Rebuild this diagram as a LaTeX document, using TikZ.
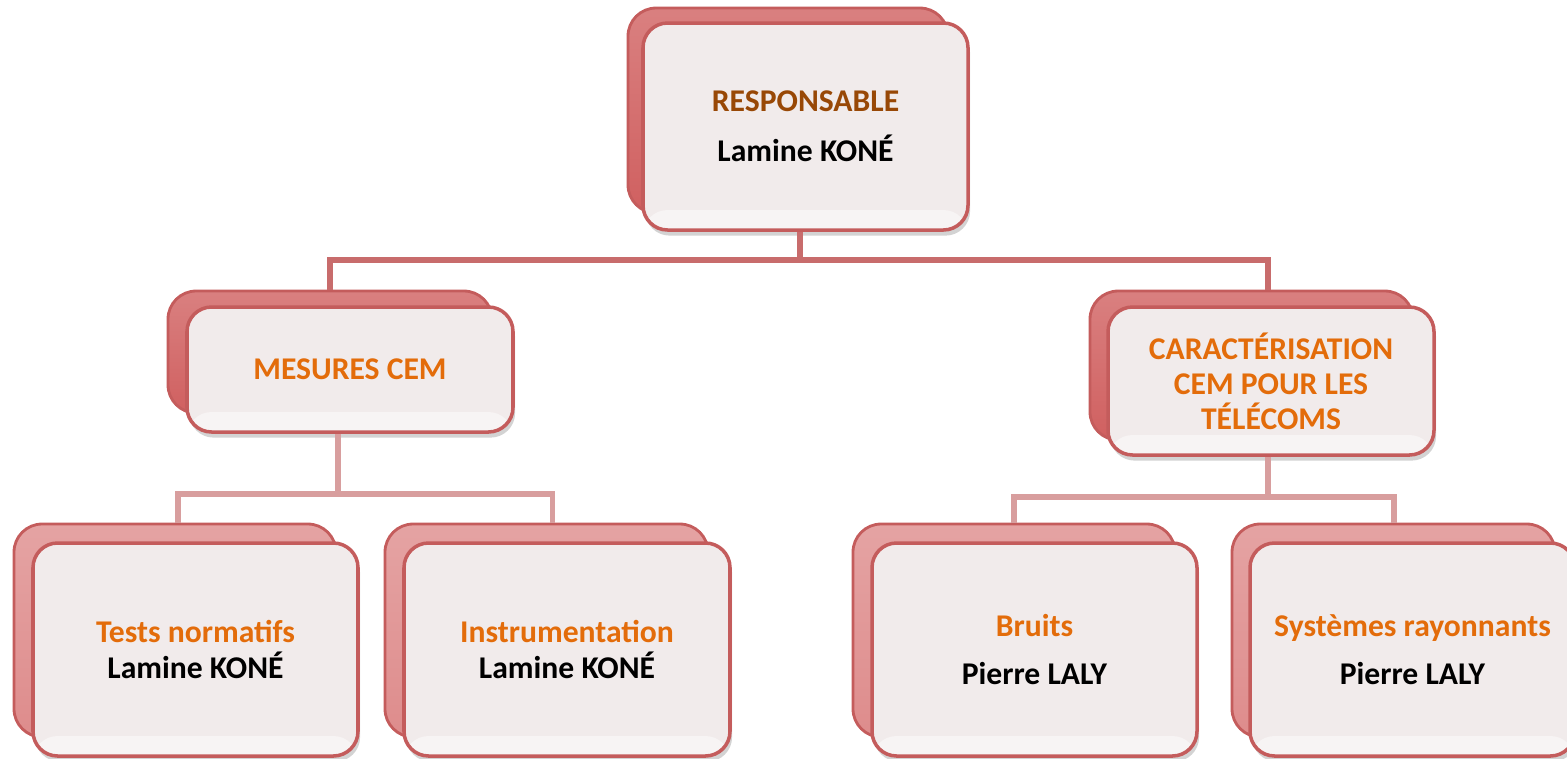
\documentclass[tikz,border=0pt]{standalone}
\usepackage{fontspec}
\setmainfont{Carlito}
\usepackage{xcolor}
\usetikzlibrary{shadows}

\definecolor{backred}{RGB}{208,96,96}
\definecolor{backpink}{RGB}{222,140,140}
\definecolor{edgered}{RGB}{196,92,92}
\definecolor{frontfill}{RGB}{241,235,235}
\definecolor{linered}{RGB}{200,108,108}
\definecolor{linepink}{RGB}{216,158,158}
\definecolor{headbrown}{RGB}{152,72,6}
\definecolor{headorange}{RGB}{227,108,10}

\begin{document}
\begin{tikzpicture}[every node/.style={inner sep=0pt, align=center, font=\fontsize{9}{10}\selectfont\bfseries},
                    backbox/.style={rounded corners=8pt, draw=edgered, line width=0.8pt, top color=#1!80, bottom color=#1},
                    frontbox/.style={rounded corners=7pt, draw=edgered, line width=1pt, fill=frontfill,
                        drop shadow={opacity=0.35, shadow xshift=0.6pt, shadow yshift=-1.6pt},
                        path picture={\fill[white, opacity=0.45] (path picture bounding box.south west) rectangle ([yshift=0.2cm]path picture bounding box.south east);}},
                    link/.style={line width=1.7pt, draw=#1}]
                    \clip (0,0) rectangle (15.67,-7.58);

                    \node[backbox=backred, minimum width=3.20cm, minimum height=2.05cm] (respb) at (7.88,-1.105) {};
                    \node[frontbox, minimum width=3.25cm, minimum height=2.07cm] (resp) at (8.055,-1.265) {\textcolor{headbrown}{RESPONSABLE}\\[4.2pt]Lamine KONÉ};

                    \node[backbox=backred, minimum width=3.24cm, minimum height=1.22cm] (mesb) at (3.30,-3.52) {};
                    \node[frontbox, minimum width=3.26cm, minimum height=1.25cm] (mes) at (3.50,-3.695) {\textcolor{headorange}{MESURES CEM}};

                    \node[backbox=backred, minimum width=3.23cm, minimum height=1.49cm] (carb) at (12.515,-3.655) {};
                    \node[frontbox, text=headorange, minimum width=3.26cm, minimum height=1.48cm] (car) at (12.71,-3.81) {CARACTÉRISATION\\CEM POUR LES\\TÉLÉCOMS};

                    \node[backbox=backpink, minimum width=3.22cm, minimum height=2.13cm] (testb) at (1.75,-6.305) {};
                    \node[frontbox, minimum width=3.25cm, minimum height=2.13cm] (test) at (1.955,-6.495) {\textcolor{headorange}{Tests normatifs}\\Lamine KONÉ};

                    \node[backbox=backpink, minimum width=3.23cm, minimum height=2.13cm] (instb) at (5.465,-6.305) {};
                    \node[frontbox, minimum width=3.26cm, minimum height=2.13cm] (inst) at (5.67,-6.495) {\textcolor{headorange}{Instrumentation}\\Lamine KONÉ};

                    \node[backbox=backpink, minimum width=3.22cm, minimum height=2.13cm] (bruitb) at (10.14,-6.305) {};
                    \node[frontbox, minimum width=3.25cm, minimum height=2.13cm] (bruit) at (10.345,-6.495) {\textcolor{headorange}{Bruits}\\[3.6pt]Pierre LALY};

                    \node[backbox=backpink, minimum width=3.23cm, minimum height=2.13cm] (systb) at (13.935,-6.305) {};
                    \node[frontbox, minimum width=3.25cm, minimum height=2.13cm] (syst) at (14.125,-6.495) {\textcolor{headorange}{Systèmes rayonnants}\\[3.6pt]Pierre LALY};

                    \coordinate (j0) at (8.00,-2.60);
                    \coordinate (j1) at (3.38,-4.94);
                    \coordinate (j2) at (12.68,-4.97);

                    \draw[link=linered] (resp.south -| j0) -- (j0);
                    \draw[link=linered] (mesb.north) |- (j0) -| (carb.north -| j2);
                    \draw[link=linepink] (mes.south -| j1) -- (j1);
                    \draw[link=linepink] ([xshift=0.03cm]testb.north) |- (j1) -| ([xshift=0.06cm]instb.north);
                    \draw[link=linepink] (car.south -| j2) -- (j2);
                    \draw[link=linepink] (bruitb.north) |- (j2) -| (systb.north);
                \end{tikzpicture}
\end{document}
